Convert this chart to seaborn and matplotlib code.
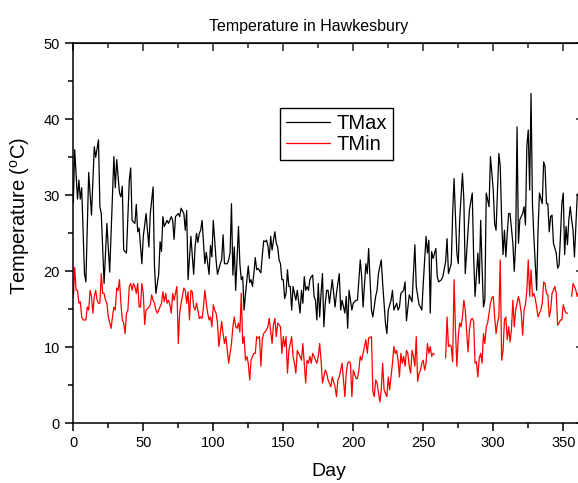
import numpy as np
import pandas as pd
import matplotlib
matplotlib.use('Agg')
import matplotlib.pyplot as plt
from matplotlib.ticker import MultipleLocator
import seaborn as sns

# daily max temperature
tmax_day = [0, 1, 3, 4, 5, 6, 8, 9, 11, 13, 15, 16, 18, 19, 20, 22, 24, 26, 29, 30,
            31, 33, 34, 35, 36, 38, 40, 41, 42, 44, 45, 46, 47, 49, 50, 52, 53, 54, 55, 57,
            58, 59, 61, 62, 63, 64, 65, 67, 68, 70, 71, 72, 73, 75, 76, 77, 79, 80, 81, 82,
            84, 86, 87, 88, 89, 90, 91, 92, 94, 95, 97, 98, 99, 100, 102, 103, 105, 106, 107, 108,
            110, 111, 112, 113, 114, 115, 116, 118, 119, 120, 121, 122, 123, 124, 125, 126, 127, 128, 129, 130,
            131, 132, 134, 135, 136, 137, 138, 139, 140, 141, 142, 143, 144, 145, 146, 147, 148, 149, 150, 151,
            152, 153, 154, 155, 156, 157, 158, 159, 160, 161, 162, 163, 164, 165, 166, 167, 168, 169, 170, 171,
            172, 173, 174, 175, 176, 177, 178, 179, 180, 181, 182, 183, 185, 187, 188, 190, 191, 192, 194, 195,
            196, 197, 199, 200, 202, 203, 205, 206, 207, 209, 210, 211, 213, 214, 216, 217, 218, 220, 221, 223,
            224, 225, 227, 228, 229, 231, 232, 233, 234, 236, 237, 238, 240, 242, 244, 245, 247, 248, 249, 250,
            252, 253, 254, 255, 256, 257, 259, 260, 261, 263, 264, 266, 267, 268, 270, 271, 272, 274, 275, 276,
            278, 279, 280, 282, 283, 285, 286, 287, 289, 290, 291, 292, 293, 294, 295, 297, 298, 300, 301, 302,
            304, 305, 306, 307, 308, 309, 310, 311, 312, 314, 315, 316, 317, 318, 319, 321, 322, 323, 324, 325,
            326, 327, 328, 329, 331, 332, 333, 335, 336, 337, 338, 339, 340, 341, 342, 343, 345, 346, 347, 348,
            349, 350, 351, 352, 353, 354, 355, 356, 357, 358, 360, 361, 362]
tmax = [29, 36, 29.5, 32, 29.5, 31, 19.7, 18.6, 33, 27.4, 36.4, 35, 37.3, 28.5, 27.6, 18.4, 26.3, 19.9, 35.1, 31,
        34.7, 30.3, 29.8, 31.2, 22.8, 22.4, 32, 33.6, 26.7, 26.3, 28.8, 25.2, 25.7, 21, 24.6, 27.6, 25.4, 23.2, 27.6, 31.1,
        20.6, 17.1, 19.6, 23.9, 22.6, 27.2, 25.9, 26.7, 26.3, 27.2, 26.7, 24.2, 27.2, 27.6, 27.2, 28.3, 27.6, 25.4, 28, 18.9,
        24.6, 19.6, 23.2, 25, 23.8, 25, 25.4, 26.7, 21, 22.5, 19.6, 23.4, 21.9, 26.7, 21.5, 19.6, 21, 21.5, 24.8, 21,
        21, 21.5, 22.4, 28.9, 19.5, 23.2, 17.5, 25.9, 21, 18.9, 19.3, 14.9, 17, 18.9, 20.7, 18.5, 18.9, 18, 19.7, 21.8,
        20.2, 20.4, 19.8, 22, 24, 23.9, 24.1, 23.4, 21.7, 24.6, 22.8, 24.1, 25.2, 23.7, 23.2, 21.5, 21, 18.9, 18.9, 16.4,
        17.1, 20.2, 18, 18, 14.9, 18, 17.1, 16.2, 17.5, 16, 14.5, 17.5, 15.8, 19.3, 17.5, 18, 17.5, 18.9, 19.3, 19.5,
        16.7, 16.2, 13.6, 18.4, 14, 17.1, 19.7, 12.7, 15.8, 17.5, 17.5, 15.8, 18.9, 15.3, 17.1, 19.7, 14.9, 16.2, 14.5, 16.7,
        12.5, 17.5, 14.9, 15.8, 16.2, 16.2, 21.5, 19.3, 15.3, 21, 19.7, 23, 14.9, 14, 16.7, 17.5, 19.7, 21.5, 18.4, 13.2,
        11.8, 14.9, 16.2, 17.5, 14.9, 15.8, 14.9, 15.3, 17.1, 17.5, 18.6, 13.5, 16.9, 16, 23.5, 18, 15.6, 15.3, 14.9, 18.4,
        24.6, 22.4, 24.1, 14.5, 22.6, 21.7, 23, 19.3, 18.6, 18.9, 19.3, 21.3, 24.3, 19.7, 21, 27.6, 32.2, 22.4, 21, 26.7,
        32.9, 29.4, 19.7, 25.4, 28.1, 30.3, 21.9, 16.7, 22.4, 18.4, 26.7, 20.6, 15.3, 16.2, 30.3, 28.5, 35.1, 30.7, 26.3, 25.4,
        35.5, 33.8, 26.8, 22.2, 25.4, 21.9, 25, 27.6, 27.6, 23.7, 20, 23.7, 39, 23.7, 26.8, 27.6, 28.5, 26.1, 36.4, 38.6,
        30.7, 43.4, 28.9, 24.6, 17.5, 25.4, 30.3, 28.9, 34.4, 33.8, 28.9, 28.9, 25.2, 27.2, 27.4, 23.7, 22.4, 20.4, 20.8, 24.6,
        28.9, 30.3, 22.2, 25.9, 23.5, 26.8, 28.5, 26.8, 25.4, 21.9, 30, 30.3, 29]

# daily min temperature, nan where the record has a gap
tmin_day = [0, 1, 2, 3, 4, 5, 6, 7, 9, 10, 11, 12, 13, 14, 15, 16, 17, 18, 19, 20,
            21, 22, 23, 24, 25, 27, 28, 29, 30, 31, 32, 33, 34, 35, 36, 37, 38, 39, 40, 41,
            42, 43, 44, 45, 46, 47, 48, 49, 50, 51, 52, 54, 55, 56, 57, 58, 59, 60, 61, 63,
            64, 65, 66, 67, 68, 69, 70, 71, 72, 74, 75, 76, 77, 79, 80, 81, 82, 83, 84, 85,
            86, 87, 88, 89, 90, 91, 92, 93, 94, 95, 96, 97, 98, 99, 100, 101, 102, 103, 104, 105,
            106, 107, 108, 109, 110, 111, 112, 113, 114, 115, 116, 117, 118, 119, 120, 121, 122, 123, 124, 125,
            126, 127, 128, 129, 130, 131, 132, 133, 134, 135, 136, 138, 139, 140, 142, 143, 144, 145, 146, 148,
            149, 150, 151, 152, 153, 154, 156, 157, 158, 159, 160, 162, 163, 164, 166, 167, 168, 169, 170, 171,
            172, 174, 175, 176, 177, 178, 180, 181, 182, 184, 185, 187, 188, 189, 190, 192, 193, 194, 195, 196,
            197, 198, 199, 200, 202, 203, 204, 205, 206, 207, 209, 210, 211, 213, 214, 215, 216, 217, 219, 220,
            221, 222, 224, 225, 226, 227, 228, 229, 230, 231, 232, 233, 234, 235, 236, 237, 238, 239, 240, 241,
            242, 243, 244, 245, 246, 247, 248, 249, 250, 251, 252, 253, 254, 255, 256, 257, 258, 262, 266, 267,
            268, 269, 270, 271, 272, 273, 274, 275, 276, 277, 278, 279, 280, 281, 282, 283, 284, 285, 286, 287,
            288, 289, 290, 291, 292, 293, 294, 295, 296, 297, 298, 299, 300, 301, 302, 303, 304, 305, 306, 307,
            308, 309, 310, 311, 312, 313, 314, 315, 316, 317, 318, 319, 320, 321, 322, 323, 324, 325, 326, 327,
            328, 329, 330, 331, 332, 333, 334, 335, 336, 337, 338, 339, 340, 341, 342, 343, 344, 345, 346, 347,
            348, 349, 350, 351, 352, 353, 355, 356, 357, 358, 359, 360, 361]
tmin = [16.5, 20.5, 17.5, 17.5, 15.8, 16, 14, 13.6, 13.6, 15.3, 14.9, 17.5, 16.7, 14.5, 16.7, 17.5, 16.2, 15.8, 15.8, 19.7,
        17.1, 17.1, 16.2, 15.8, 14, 12.5, 14, 15.3, 14.9, 17.8, 17.5, 18.9, 15.8, 13.6, 13.2, 11.8, 14.5, 14.9, 18, 18.4,
        17.5, 18.4, 18, 17.1, 18.4, 15.3, 15.3, 18.4, 17.1, 13, 14.9, 15.3, 15.6, 16.9, 16.2, 15.8, 14.9, 14.5, 14.9, 15.8,
        17.3, 16, 17.1, 15.8, 16.2, 15.6, 14.5, 17.1, 16.2, 18, 10.5, 14.5, 15.8, 17.8, 17.5, 15.8, 17.3, 13.6, 17.5, 17.3,
        15.3, 14.9, 15.8, 14.9, 13.8, 14, 13.8, 15.3, 17.5, 15.8, 14.5, 13.6, 14, 12.7, 15.6, 14.9, 14.5, 13.2, 10.1, 11.8,
        13.4, 11.8, 10.5, 11.4, 9.6, 7.9, 9.2, 10.5, 12.7, 14, 12.7, 12.5, 13.2, 12, 17.1, 10.5, 11.4, 8.3, 8.8, 7.9,
        5.7, 8.3, 8.8, 9.2, 9.2, 11.4, 11.2, 11.4, 7.5, 11, 11.8, 12.3, 12.7, 13.8, 10.5, 13, 13.8, 11.4, 13.2, 12.7,
        9.2, 11.4, 10.1, 11.4, 6.6, 9.6, 11.4, 8.8, 7.9, 6.6, 9.6, 8.8, 8.3, 10.5, 5.3, 8.3, 7.9, 8.8, 7.9, 9.2,
        8.8, 7.9, 8.8, 10.5, 8.3, 5.3, 7, 6.6, 5.7, 4.8, 6.1, 4.8, 3.5, 5.7, 6.1, 7.9, 5.7, 3.5, 6.6, 7.9,
        8.1, 7.9, 3.5, 7, 5.9, 5.9, 7, 8.8, 8.3, 9.2, 11, 9.2, 11.2, 11.4, 4.2, 3.5, 5.7, 5.3, 2.8, 4.4,
        7.9, 4.4, 3.5, 6.1, 4.4, 6.1, 7.9, 10.1, 9.2, 9.6, 8.3, 6.1, 9.2, 7.9, 8.8, 7.5, 9.6, 9.2, 7.5, 6.6,
        9.6, 8.8, 7.5, 11.4, 5.5, 6.6, 7, 7.9, 8.3, 7, 7.9, 10.5, 9.2, 10.1, 8.8, 9.2, 9.1, np.nan, 8.6, 14,
        10.1, 10.3, 10.1, 8.1, 18.9, 12.3, 7.5, 11.4, 13.2, 12.7, 14, 16.2, 14.9, 12.1, 9.4, 12.3, 13.6, 13.8, 13.4, 7.9,
        8.1, 6.1, 8.6, 9.2, 7.9, 11.8, 10.5, 12.7, 13.2, 14.5, 15.8, 16.5, 16.7, 14, 11.8, 13.2, 14, 21.5, 8.3, 9.6,
        13.6, 14, 11, 12.7, 10.7, 12.3, 16.2, 12.7, 14.9, 15.8, 16.7, 15.8, 14.5, 11.6, 14.9, 15.6, 17.5, 21.5, 16.7, 20.2,
        16.7, 17.1, 16.4, 15.3, 14, 14.5, 14.9, 15.8, 18.6, 18.4, 17.1, 16.9, 14, 14.9, 17.1, 17.5, 18, 17.1, 12.9, 13.2,
        13.6, 13.6, 15.6, 14.9, 14.5, 14.5, np.nan, 16.7, 18.4, 18, 17.5, 16.7, 17.3]

df_max = pd.DataFrame({'Day': tmax_day, 'Temp': tmax, 'Series': 'TMax', 'seg': 0})
df_min = pd.DataFrame({'Day': tmin_day, 'Temp': tmin, 'Series': 'TMin'})
df_min['seg'] = df_min['Temp'].isna().cumsum()
df = pd.concat([df_max, df_min.dropna()], ignore_index=True)

sns.set_style('ticks')
plt.rcParams['font.family'] = ['Liberation Sans', 'DejaVu Sans']
plt.rcParams['mathtext.fontset'] = 'custom'
plt.rcParams['mathtext.rm'] = 'Liberation Sans'
plt.rcParams['text.color'] = 'black'
plt.rcParams['axes.labelcolor'] = 'black'

fig = plt.figure(figsize=(5.78, 4.83), dpi=100)
ax = fig.add_axes([0.1268, 0.1236, 0.884, 0.7867])

sns.lineplot(data=df, x='Day', y='Temp', hue='Series', units='seg', estimator=None,
             palette={'TMax': 'black', 'TMin': 'red'}, linewidth=0.9, ax=ax)

ax.set_xlim(0, 365)
ax.set_ylim(0, 50)
ax.xaxis.set_major_locator(MultipleLocator(50))
ax.xaxis.set_minor_locator(MultipleLocator(25))
ax.yaxis.set_major_locator(MultipleLocator(10))
ax.yaxis.set_minor_locator(MultipleLocator(5))
ax.tick_params(which='both', direction='out', width=1.1, labelsize=10.5, colors='black')
ax.tick_params(which='major', length=6)
ax.tick_params(which='minor', length=3.5)
for s in ax.spines.values():
    s.set_visible(True)
    s.set_linewidth(1.1)
    s.set_color('black')

# top / right ticks point inward
top = ax.secondary_xaxis('top')
top.xaxis.set_major_locator(MultipleLocator(50))
top.xaxis.set_minor_locator(MultipleLocator(25))
top.tick_params(which='both', direction='in', labeltop=False, width=1.1)
top.tick_params(which='major', length=6)
top.tick_params(which='minor', length=3.5)
right = ax.secondary_yaxis('right')
right.yaxis.set_major_locator(MultipleLocator(10))
right.yaxis.set_minor_locator(MultipleLocator(5))
right.tick_params(which='both', direction='in', labelright=False, width=1.1)
right.tick_params(which='major', length=6)
right.tick_params(which='minor', length=3.5)

ax.set_title('Temperature in Hawkesbury', fontsize=11.5, pad=9, x=0.461)
ax.set_xlabel('Day', fontsize=14, labelpad=9)
ax.set_ylabel(r'Temperature ($\mathregular{^o}$C)', fontsize=14.5)
ax.yaxis.set_label_coords(-0.08, 0.545)

sns.move_legend(ax, loc='upper left', bbox_to_anchor=(0.404, 0.83), title=None,
                frameon=True, fancybox=False, edgecolor='black', framealpha=1,
                fontsize=14.5, handlelength=2.2, handletextpad=0.3, labelspacing=0.12,
                borderpad=0.3, borderaxespad=0)
ax.get_legend().get_frame().set_linewidth(1.0)

fig.savefig('out.png', dpi=100)
